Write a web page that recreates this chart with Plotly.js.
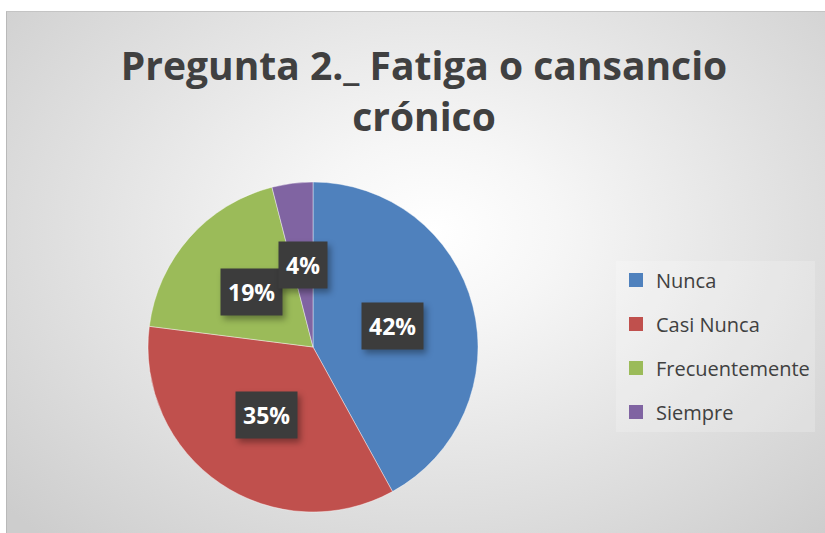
<!DOCTYPE html>
<html>
<head>
<meta charset="utf-8">
<script src="https://cdn.plot.ly/plotly-3.0.1.min.js"></script>
<style>
  html, body { margin: 0; padding: 0; background: #ffffff; }
  #wrap { position: relative; width: 825px; height: 533px; overflow: hidden; background: #ffffff; }
  #bg { position: absolute; left: 6px; top: 11px; right: 0; bottom: 0;
        border-left: 1px solid #b9b9b9; border-top: 1px solid #c4c4c4;
        background: radial-gradient(ellipse 70% 80% at 52% 42%, #ffffff 0%, #f6f6f6 22%, #e2e2e2 60%, #cdcdcd 100%); }
  #chart { position: absolute; left: 0; top: 0; width: 825px; height: 533px; }
  #chart .annotation rect.bg { filter: drop-shadow(3px 4px 3px rgba(0,0,0,0.35)); }
</style>
</head>
<body>
<div id="wrap">
  <div id="bg"></div>
  <div id="chart"></div>
</div>
<script>
// ---- data ----
const categories = ["Nunca", "Casi Nunca", "Frecuentemente", "Siempre"];
const values = [42, 35, 19, 4];
const percentLabels = ["42%", "35%", "19%", "4%"];
const colors = ["#4F81BD", "#C0504D", "#9BBB59", "#8064A2"];
const titleText = "Pregunta 2._ Fatiga o cansancio<br>crónico";

// ---- layout constants ----
const W = 825, H = 533;
const pieCx = 313, pieCy = 347, pieR = 165;
const domX = [(pieCx - pieR) / W, (pieCx + pieR) / W];
const domY = [1 - (pieCy + pieR) / H, 1 - (pieCy - pieR) / H];

const pieTrace = {
  type: "pie",
  labels: categories,
  values: values,
  sort: false,
  direction: "clockwise",
  rotation: 0,
  marker: { colors: colors, line: { color: "rgba(255,255,255,0.7)", width: 0.6 } },
  textinfo: "none",
  hoverinfo: "label+percent",
  showlegend: false,
  domain: { x: domX, y: domY }
};

// legend entries (one per category) so spacing between items can be set
const legendTraces = categories.map((c, i) => ({
  type: "scatter",
  mode: "markers",
  x: [null], y: [null],
  name: c,
  legendgroup: c,
  marker: { symbol: "square", size: 14, color: colors[i] },
  showlegend: true,
  hoverinfo: "skip"
}));

// data-label annotations placed at the middle angle of each slice
const total = values.reduce((a, b) => a + b, 0);
const annotations = [];
let cum = 0;
values.forEach((v, i) => {
  const mid = (cum + v / 2) / total * 2 * Math.PI;
  cum += v;
  const px = pieCx + 0.5 * pieR * Math.sin(mid);
  const py = pieCy - 0.5 * pieR * Math.cos(mid);
  annotations.push({
    xref: "paper", yref: "paper",
    x: px / W, y: 1 - py / H,
    xanchor: "center", yanchor: "middle",
    showarrow: false,
    borderpad: 7,
    text: percentLabels[i],
    font: { family: "Open Sans", size: 23, color: "#ffffff", weight: 700 },
    bgcolor: "#3c3c3c"
  });
});

const layout = {
  width: W, height: H,
  margin: { l: 0, r: 0, t: 0, b: 0 },
  paper_bgcolor: "rgba(0,0,0,0)",
  plot_bgcolor: "rgba(0,0,0,0)",
  title: {
    text: titleText,
    font: { family: "Open Sans", size: 39, color: "#404040", weight: 700 },
    x: 424 / W, xanchor: "center",
    y: 1 - 80 / H, yanchor: "top",
    yref: "paper"
  },
  xaxis: { visible: false },
  yaxis: { visible: false },
  showlegend: true,
  legend: {
    x: 616 / W, xanchor: "left",
    y: 1 - 346 / H, yanchor: "middle",
    font: { family: "Open Sans", size: 20, color: "#404040" },
    tracegroupgap: 15,
    entrywidth: 165,
    bgcolor: "rgba(255,255,255,0.2)",
    itemclick: false, itemdoubleclick: false
  },
  annotations: annotations
};

Plotly.newPlot("chart", [pieTrace].concat(legendTraces), layout, { displayModeBar: false, staticPlot: true });
</script>
</body>
</html>
